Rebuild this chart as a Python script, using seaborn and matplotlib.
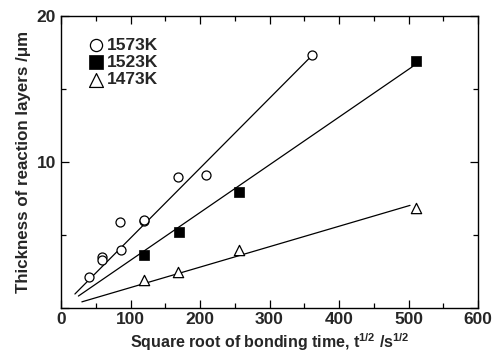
import numpy as np
import pandas as pd
import matplotlib
matplotlib.use("Agg")
import matplotlib.pyplot as plt
import seaborn as sns
from matplotlib.ticker import MultipleLocator

# Data
x_1573 = [40, 59, 59, 86, 85, 119, 120, 168, 209, 361]
y_1573 = [2.1, 3.5, 3.3, 4.0, 5.9, 5.95, 6.0, 8.95, 9.1, 17.35]
x_1523 = [120, 170, 256, 511]
y_1523 = [3.6, 5.2, 7.95, 16.9]
x_1473 = [120, 168, 256, 511]
y_1473 = [1.9, 2.45, 4.0, 6.85]

# fitted lines (slope through origin) and drawn x-ranges
fit_slopes = [0.0479, 0.0327, 0.0140]
fit_xstart = [20, 25, 30]
fit_xend = [361, 506, 502]

labels = ["1573K", "1523K", "1473K"]
xticks = [0, 100, 200, 300, 400, 500, 600]
yticks = [0, 10, 20]
yticklabels = ["", "10", "20"]

sns.set_theme(style="ticks")
plt.rcParams["font.family"] = ["Liberation Sans", "DejaVu Sans"]
plt.rcParams["font.weight"] = "bold"
plt.rcParams["mathtext.fontset"] = "custom"
plt.rcParams["mathtext.rm"] = "Liberation Sans:bold"
plt.rcParams["mathtext.it"] = "Liberation Sans:bold"
plt.rcParams["mathtext.bf"] = "Liberation Sans:bold"

fig = plt.figure(figsize=(4.96, 3.58), dpi=100)
ax = fig.add_axes([0.123, 0.1397, 0.841, 0.8156])

# fit lines
for k, xs, xe in zip(fit_slopes, fit_xstart, fit_xend):
    lx = np.array([xs, xe], dtype=float)
    df_line = pd.DataFrame({"x": lx, "y": k * lx})
    sns.lineplot(data=df_line, x="x", y="y", ax=ax, color="black", lw=0.9,
                 legend=False, zorder=1)

df1 = pd.DataFrame({"x": x_1573, "y": y_1573})
df2 = pd.DataFrame({"x": x_1523, "y": y_1523})
df3 = pd.DataFrame({"x": x_1473, "y": y_1473})
sns.scatterplot(data=df1, x="x", y="y", ax=ax, marker="o", s=42,
                facecolor="white", edgecolor="black", linewidth=0.9,
                label=labels[0], zorder=3)
sns.scatterplot(data=df2, x="x", y="y", ax=ax, marker="s", s=55,
                facecolor="black", edgecolor="black", linewidth=0.5,
                label=labels[1], zorder=3)
sns.scatterplot(data=df3, x="x", y="y", ax=ax, marker="^", s=55,
                facecolor="white", edgecolor="black", linewidth=0.9,
                label=labels[2], zorder=3)

ax.set_xlim(0, 600)
ax.set_ylim(0, 20)
ax.set_xticks(xticks)
ax.set_yticks(yticks)
ax.set_yticklabels(yticklabels)
ax.xaxis.set_minor_locator(MultipleLocator(50))
ax.yaxis.set_minor_locator(MultipleLocator(5))
ax.tick_params(which="both", direction="in", top=True, right=True,
               labelsize=12.5, width=0.9, color="black")
ax.tick_params(which="major", length=6)
ax.tick_params(which="minor", length=3.5)
ax.tick_params(axis="x", pad=3)
for lab in ax.get_xticklabels() + ax.get_yticklabels():
    lab.set_fontweight("bold")
for sp in ax.spines.values():
    sp.set_linewidth(1.0)
    sp.set_color("black")

ax.set_xlabel(r"Square root of bonding time, t$^{1/2}$ /s$^{1/2}$",
              fontsize=11.5, fontweight="bold", labelpad=3)
ax.set_ylabel("Thickness of reaction layers /\u03bcm", fontsize=12.2,
              fontweight="bold", labelpad=4)

leg = ax.legend(loc="upper left", bbox_to_anchor=(0.035, 0.95), frameon=False,
                handletextpad=-0.1, labelspacing=0.12, borderaxespad=0,
                handlelength=1.5,
                prop={"weight": "bold", "size": 12.5}, markerscale=1.35)

fig.savefig("out.png", dpi=100)
